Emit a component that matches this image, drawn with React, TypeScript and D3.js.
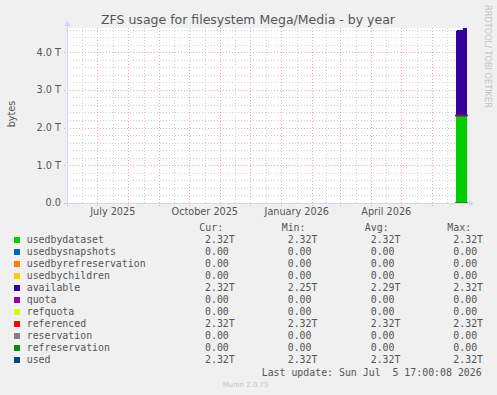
import React from "react";
import * as d3 from "d3";

const W = 497;
const H = 395;

const title = "ZFS usage for filesystem Mega/Media - by year";
const yAxisLabel = "bytes";
const sideLabel = "RRDTOOL/ TOBI OETIKER";
const lastUpdate = "Last update: Sun Jul  5 17:00:08 2026";
const muninVersion = "Munin 2.0.75";

const rangeStart = "2025-05-31T17:00:00";
const rangeEnd = "2026-07-05T17:00:00";

const yTickValues = [0, 1, 2, 3, 4];
const yTickLabels = ["0.0", "1.0 T", "2.0 T", "3.0 T", "4.0 T"];
const xLabelMonths = ["2025-07-01", "2025-10-01", "2026-01-01", "2026-04-01"];
const xLabels = ["July 2025", "October 2025", "January 2026", "April 2026"];

const seriesNames = [
  "usedbydataset",
  "usedbysnapshots",
  "usedbyrefreservation",
  "usedbychildren",
  "available",
  "quota",
  "refquota",
  "referenced",
  "reservation",
  "refreservation",
  "used",
];
const seriesColors = [
  "#00CC00",
  "#0066B3",
  "#FF8000",
  "#FFCC00",
  "#330099",
  "#990099",
  "#CCFF00",
  "#FF0000",
  "#808080",
  "#008F00",
  "#00487D",
];
const seriesKinds = ["area", "stack", "stack", "stack", "stack", "line", "line", "line", "line", "line", "line"];

const curVals = ["2.32T", "0.00", "0.00", "0.00", "2.32T", "0.00", "0.00", "2.32T", "0.00", "0.00", "2.32T"];
const minVals = ["2.32T", "0.00", "0.00", "0.00", "2.25T", "0.00", "0.00", "2.32T", "0.00", "0.00", "2.32T"];
const avgVals = ["2.32T", "0.00", "0.00", "0.00", "2.29T", "0.00", "0.00", "2.32T", "0.00", "0.00", "2.32T"];
const maxVals = ["2.32T", "0.00", "0.00", "0.00", "2.32T", "0.00", "0.00", "2.32T", "0.00", "0.00", "2.32T"];

// daily samples (interval starts), values in T
const sampleStarts = [
  "2026-06-24T17:00:00",
  "2026-06-25T17:00:00",
  "2026-06-26T17:00:00",
  "2026-06-27T17:00:00",
  "2026-06-28T17:00:00",
  "2026-06-29T17:00:00",
  "2026-06-30T17:00:00",
  "2026-07-01T17:00:00",
  "2026-07-02T17:00:00",
  "2026-07-03T17:00:00",
  "2026-07-04T17:00:00",
];
const usedbydataset = [2.32, 2.32, 2.32, 2.32, 2.32, 2.32, 2.32, 2.32, 2.32, 2.32, 2.32];
const usedbysnapshots = [0, 0, 0, 0, 0, 0, 0, 0, 0, 0, 0];
const usedbyrefreservation = [0, 0, 0, 0, 0, 0, 0, 0, 0, 0, 0];
const usedbychildren = [0, 0, 0, 0, 0, 0, 0, 0, 0, 0, 0];
const available = [2.25, 2.27, 2.27, 2.27, 2.27, 2.27, 2.27, 2.32, 2.32, 2.32, 2.32];
const quota = [0, 0, 0, 0, 0, 0, 0, 0, 0, 0, 0];
const refquota = [0, 0, 0, 0, 0, 0, 0, 0, 0, 0, 0];
const referenced = [2.32, 2.32, 2.32, 2.32, 2.32, 2.32, 2.32, 2.32, 2.32, 2.32, 2.32];
const reservation = [0, 0, 0, 0, 0, 0, 0, 0, 0, 0, 0];
const refreservation = [0, 0, 0, 0, 0, 0, 0, 0, 0, 0, 0];
const used = [2.32, 2.32, 2.32, 2.32, 2.32, 2.32, 2.32, 2.32, 2.32, 2.32, 2.32];

const seriesData = [
  usedbydataset,
  usedbysnapshots,
  usedbyrefreservation,
  usedbychildren,
  available,
  quota,
  refquota,
  referenced,
  reservation,
  refreservation,
  used,
];

const PL = 67;
const PR = 467;
const PT = 28;
const PB = 203;
const Y_MAX = 4.64;

const FONT = "'DejaVu Sans', sans-serif";
const MONO = "'DejaVu Sans Mono', monospace";
const TEXT = "#555555";

export default function App() {
  const parse = (s: string) => new Date(s);
  const x = d3.scaleTime().domain([parse(rangeStart), parse(rangeEnd)]).range([PL, PR]);
  const y = d3.scaleLinear().domain([0, Y_MAX]).range([PB, PT]);

  const times = [...sampleStarts.map(parse), parse(rangeEnd)];
  const ext = (arr: number[]) => [...arr, arr[arr.length - 1]];

  // stacking
  const stacks: { lo: number[]; hi: number[]; color: string }[] = [];
  let base = times.map(() => 0);
  seriesData.forEach((arr, i) => {
    if (seriesKinds[i] === "line") return;
    const vals = ext(arr);
    const hi = vals.map((v, k) => base[k] + v);
    stacks.push({ lo: base, hi, color: seriesColors[i] });
    base = hi;
  });

  const area = d3
    .area<number>()
    .x((_, k) => x(times[k]))
    .curve(d3.curveStepAfter);

  const line = d3
    .line<number>()
    .x((_, k) => x(times[k]))
    .y((v) => y(v))
    .curve(d3.curveStepAfter);

  const minorY = d3.range(0, Y_MAX, 0.2).filter((v) => Math.abs(v - Math.round(v)) > 1e-6);
  const majorX = d3.timeMonth.range(d3.timeMonth.floor(parse(rangeStart)), parse(rangeEnd));
  const minorXPos = majorX
    .map((d) => (x(d) + x(d3.timeMonth.offset(d, 1))) / 2)
    .filter((p) => p > PL && p < PR);
  const majorXPos = majorX.map((d) => x(d)).filter((p) => p > PL && p < PR);

  const gridMinor = "#CFCFCF";
  const gridMajor = "rgba(240,110,110,0.6)";
  const axisColor = "#CFD6F8";

  const rowY0 = 240;
  const rowStep = 12;
  const colX = [205, 287.7, 370.7, 453.3];
  const headX = [199.3, 281.7, 364.8, 447.3];
  const headers = ["Cur:", "Min:", "Avg:", "Max:"];
  const cols = [curVals, minVals, avgVals, maxVals];

  return (
    <svg
      width={W}
      height={H}
      viewBox={`0 0 ${W} ${H}`}
      style={{ position: "absolute", left: 0, top: 0, background: "#F0F0F0" }}
    >
      <rect x={0} y={0} width={W} height={H} fill="#F0F0F0" />
      <rect x={PL} y={PT} width={PR - PL} height={PB - PT} fill="#FFFFFF" />

      {/* minor grid */}
      <g stroke={gridMinor} strokeWidth={1} strokeDasharray="1,2" shapeRendering="crispEdges">
        {minorY.map((v, i) => (
          <line key={"my" + i} x1={PL} x2={PR} y1={Math.round(y(v)) + 0.5} y2={Math.round(y(v)) + 0.5} />
        ))}
        {minorXPos.map((p, i) => (
          <line key={"mx" + i} x1={Math.round(p) + 0.5} x2={Math.round(p) + 0.5} y1={PT} y2={PB + 2} />
        ))}
      </g>
      {/* major grid */}
      <g stroke={gridMajor} strokeWidth={1} strokeDasharray="1,2" shapeRendering="crispEdges">
        {yTickValues.map((v, i) => (
          <line key={"My" + i} x1={PL - 3} x2={PR} y1={Math.round(y(v)) + 0.5} y2={Math.round(y(v)) + 0.5} />
        ))}
        {majorXPos.map((p, i) => (
          <line key={"Mx" + i} x1={Math.round(p) + 0.5} x2={Math.round(p) + 0.5} y1={PT} y2={PB + 3} />
        ))}
      </g>

      {/* areas */}
      {stacks.map((s, i) => (
        <path
          key={"a" + i}
          d={area.y0((_, k) => y(s.lo[k])).y1((_, k) => y(s.hi[k]))(s.hi) || ""}
          fill={s.color}
        />
      ))}

      {/* lines */}
      {seriesData.map((arr, i) =>
        seriesKinds[i] === "line" ? (
          <path
            key={"l" + i}
            d={line(ext(arr)) || ""}
            fill="none"
            stroke={seriesColors[i]}
            strokeWidth={1.6}
            strokeLinecap="square"
          />
        ) : null
      )}

      {/* axes */}
      <line x1={PL - 2} x2={PR + 2} y1={PB + 0.5} y2={PB + 0.5} stroke={axisColor} strokeWidth={1} />
      <line x1={PL + 0.5} x2={PL + 0.5} y1={PB + 2} y2={PT - 2} stroke={axisColor} strokeWidth={1} />
      <path d={`M${PR + 2},${PB - 3} L${PR + 7},${PB + 0.5} L${PR + 2},${PB + 4} Z`} fill={axisColor} />
      <path d={`M${PL - 3},${PT - 2} L${PL + 0.5},${PT - 7} L${PL + 4},${PT - 2} Z`} fill={axisColor} />

      {/* y tick labels */}
      {yTickValues.map((v, i) => (
        <text
          key={"yt" + i}
          x={61}
          y={y(v)}
          dy="0.35em"
          textAnchor="end"
          fontFamily={FONT}
          fontSize={9.7}
          fill={TEXT}
        >
          {yTickLabels[i]}
        </text>
      ))}

      {/* x labels */}
      {xLabelMonths.map((m, i) => {
        const d0 = parse(m + "T00:00:00");
        const d1 = d3.timeMonth.offset(d0, 1);
        const mid = (x(d0) + x(d1)) / 2;
        return (
          <text key={"xl" + i} x={mid} y={215} textAnchor="middle" fontFamily={FONT} fontSize={9.7} fill={TEXT}>
            {xLabels[i]}
          </text>
        );
      })}

      {/* title */}
      <text x={248} y={24} textAnchor="middle" fontFamily={FONT} fontSize={12.5} fill={TEXT}>
        {title}
      </text>

      {/* y axis label */}
      <text
        transform={`translate(14.5,114) rotate(-90)`}
        textAnchor="middle"
        fontFamily={FONT}
        fontSize={9.7}
        fill={TEXT}
      >
        {yAxisLabel}
      </text>

      {/* side label */}
      <text
        transform={`translate(485,5) rotate(90)`}
        textAnchor="start"
        fontFamily={FONT}
        fontSize={8.2}
        fill="#C4C4C4"
      >
        {sideLabel}
      </text>

      {/* legend */}
      {headers.map((h, j) => (
        <text key={"h" + j} x={headX[j]} y={227.3} dy="0.35em" fontFamily={MONO} fontSize={9.9} fill={TEXT}>
          {h}
        </text>
      ))}
      {seriesNames.map((name, i) => {
        const cy = rowY0 + i * rowStep;
        return (
          <g key={"lg" + i}>
            <rect x={14} y={cy - 3} width={6} height={6} fill={seriesColors[i]} />
            <text x={26.7} y={cy} dy="0.35em" fontFamily={MONO} fontSize={9.9} fill={TEXT}>
              {name}
            </text>
            {cols.map((c, j) => (
              <text key={j} x={colX[j]} y={cy} dy="0.35em" fontFamily={MONO} fontSize={9.9} fill={TEXT}>
                {c[i]}
              </text>
            ))}
          </g>
        );
      })}
      <text x={261.7} y={372.3} dy="0.35em" fontFamily={MONO} fontSize={9.9} fill={TEXT} xmlSpace="preserve" style={{ whiteSpace: "pre" }}>
        {lastUpdate}
      </text>
      <text x={222.7} y={385} dy="0.35em" fontFamily={FONT} fontSize={7} fill="#C4C4C4">
        {muninVersion}
      </text>
    </svg>
  );
}
